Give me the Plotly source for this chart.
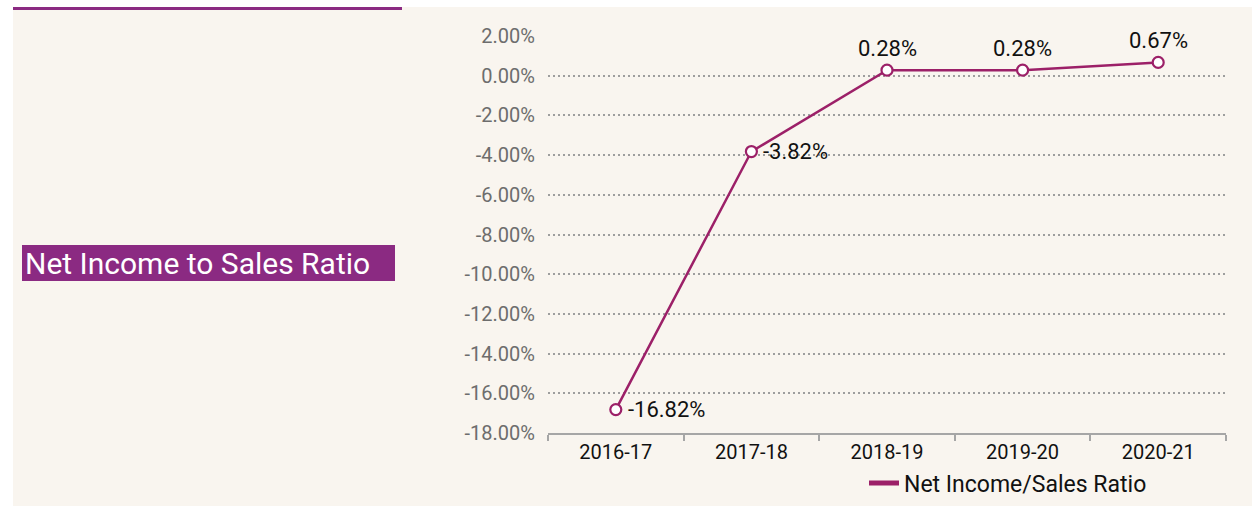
import plotly.graph_objects as go

categories = ["2016-17", "2017-18", "2018-19", "2019-20", "2020-21"]
ratio_values = [-16.82, -3.82, 0.28, 0.28, 0.67]
label_sides = ["right", "right", "top", "top", "top"]
y_tick_values = [2, 0, -2, -4, -6, -8, -10, -12, -14, -16, -18]
y_tick_labels = ["2.00%", "0.00%", "-2.00%", "-4.00%", "-6.00%", "-8.00%", "-10.00%",
                 "-12.00%", "-14.00%", "-16.00%", "-18.00%"]
series_name = "Net Income/Sales Ratio"
title_text = "Net Income to Sales Ratio"

W, H = 1252, 506
LINE = "#9c2068"
PURPLE = "#8b2a82"
CREAM = "#f9f5ef"
FONT = "Roboto"

fig = go.Figure()
fig.add_trace(go.Scatter(
    x=categories, y=ratio_values,
    mode="lines+markers",
    line=dict(color=LINE, width=2.5),
    marker=dict(symbol="circle", size=11, color="white", line=dict(color=LINE, width=2.2)),
    showlegend=False,
    cliponaxis=False,
))
fig.add_trace(go.Scatter(
    x=[None], y=[None], mode="lines", name=series_name,
    line=dict(color=LINE, width=5), showlegend=True,
))

def px_x(v):
    return v / W

def px_y(v):
    return 1 - v / H

shapes = [
    dict(type="rect", xref="paper", yref="paper", x0=px_x(13), x1=1.0,
         y0=0.0, y1=px_y(7), fillcolor=CREAM, line=dict(width=0), layer="below"),
    dict(type="rect", xref="paper", yref="paper", x0=px_x(13), x1=px_x(402),
         y0=px_y(10), y1=px_y(7), fillcolor=PURPLE, line=dict(width=0), layer="below"),
    dict(type="rect", xref="paper", yref="paper", x0=px_x(22), x1=px_x(395),
         y0=px_y(281), y1=px_y(245), fillcolor=PURPLE, line=dict(width=0), layer="below"),
]

annotations = [
    dict(text=title_text, xref="paper", yref="paper", x=px_x(23), y=px_y(263),
         xanchor="left", yanchor="middle", showarrow=False,
         font=dict(family=FONT, size=30, color="white")),
]

for cat, val, side in zip(categories, ratio_values, label_sides):
    ann = dict(x=cat, y=val, xref="x", yref="y", text=f"{val:.2f}%", showarrow=False,
               font=dict(family=FONT, size=22, color="#111111"))
    if side == "right":
        ann.update(xanchor="left", yanchor="middle", xshift=10)
    else:
        ann.update(xanchor="center", yanchor="bottom", yshift=7)
    annotations.append(ann)

fig.update_layout(
    width=W, height=H,
    margin=dict(l=0, r=0, t=0, b=0, autoexpand=False),
    paper_bgcolor="white",
    plot_bgcolor="rgba(0,0,0,0)",
    shapes=shapes,
    annotations=annotations,
    font=dict(family=FONT),
    xaxis=dict(
        domain=[px_x(548), px_x(1226)],
        type="category",
        range=[-0.5, len(categories) - 0.5],
        showgrid=False,
        showline=True, linecolor="#a6a6a6", linewidth=1.5,
        ticks="outside", tickson="boundaries", ticklen=6, tickcolor="#a6a6a6", tickwidth=1.5,
        tickfont=dict(family=FONT, size=20, color="#111111"),
        fixedrange=True,
    ),
    yaxis=dict(
        domain=[px_y(433), px_y(36)],
        range=[-18, 2],
        tickvals=y_tick_values, ticktext=y_tick_labels,
        showgrid=True, gridcolor="#9e9e9e", gridwidth=2, griddash="2px,3px",
        zeroline=False, showline=False, ticks="",
        ticklabelstandoff=12,
        tickfont=dict(family=FONT, size=20, color="#6d6d6d"),
        fixedrange=True,
    ),
    legend=dict(
        orientation="h", x=px_x(864), y=px_y(483), xanchor="left", yanchor="middle",
        bgcolor="rgba(0,0,0,0)",
        font=dict(family=FONT, size=23, color="#111111"),
    ),
)

fig.write_html(
    "out.html",
    config={"displayModeBar": False},
    post_script="document.body.style.margin='0';document.body.style.overflow='hidden';",
)
